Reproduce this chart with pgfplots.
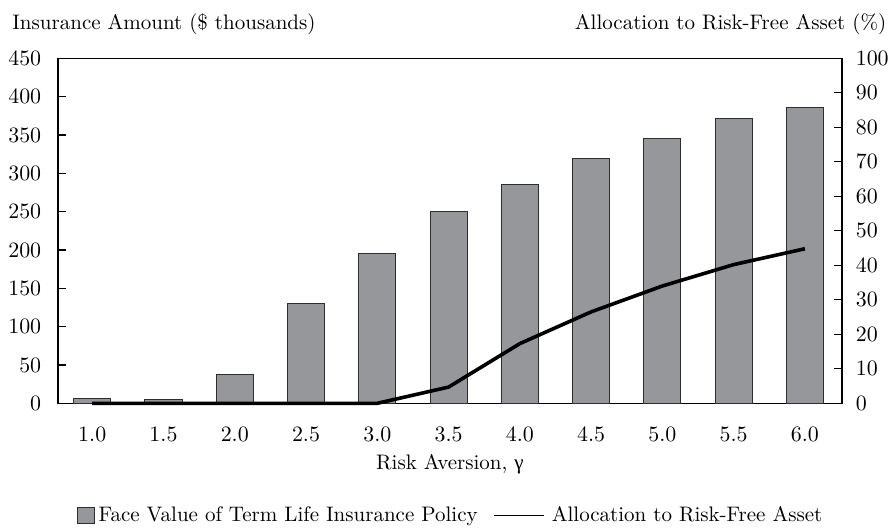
\documentclass[border=0pt]{standalone}
\usepackage{fontspec}
\usepackage{pgfplots}
\pgfplotsset{compat=1.18}
\newfontfamily\grk{Liberation Serif}
\definecolor{barc}{RGB}{150,151,155}
\definecolor{bard}{RGB}{45,45,45}
\begin{document}
\fontsize{10.5}{12.6}\selectfont
\begin{tikzpicture}
\pgfplotsset{
  common/.style={
    scale only axis, width=392pt, height=172.5pt,
    xmin=0.76, xmax=6.26,
    axis line style={line width=0.6pt},
    tick style={black, line width=0.6pt},
    tick align=inside,
    major tick length=4pt,
    clip=false,
  }
}
\begin{axis}[
  common,
  ymin=0, ymax=450,
  ytick={0,50,...,450},
  ytick pos=left,
  xtick={1,1.5,...,6},
  xtick style={draw=none},
  xticklabel style={yshift=-8.5pt,
    /pgf/number format/.cd, fixed, fixed zerofill, precision=1},
  yticklabel style={xshift=-4.7pt},
]
\addplot[ybar, bar width=0.26, fill=barc, draw=bard, line width=0.5pt] coordinates {
(1.0,6)
(1.5,5)
(2.0,37)
(2.5,130)
(3.0,195)
(3.5,250)
(4.0,286)
(4.5,319)
(5.0,346)
(5.5,371)
(6.0,386)
};
\node[anchor=base west, inner sep=0] at ([xshift=-23pt,yshift=14.3pt]rel axis cs:0,1) {Insurance Amount (\$ thousands)};
\node[anchor=base east, inner sep=0] at ([xshift=22.3pt,yshift=14.3pt]rel axis cs:1,1) {Allocation to Risk-Free Asset (\%)};
\node[anchor=center] at ([yshift=-30.5pt]rel axis cs:0.5,0) {Risk Aversion, {\grk γ}};
\coordinate (tl) at ([xshift=-29pt,yshift=29.15pt]rel axis cs:0,1);
\coordinate (br) at ([xshift=24pt,yshift=-63.5pt]rel axis cs:1,0);
\end{axis}
\begin{axis}[
  common,
  ymin=0, ymax=100,
  ytick={0,10,...,100},
  ytick pos=right,
  yticklabel pos=right,
  hide x axis,
  yticklabel style={xshift=3.2pt},
  legend columns=2,
  legend style={draw=none, at={(0.502,-0.325)}, anchor=center,
    /tikz/every even column/.append style={column sep=6pt},
    inner sep=0pt},
]
\addlegendimage{legend image code/.code={
  \draw[fill=barc, draw=bard, line width=0.5pt] (0pt,-4.2pt) rectangle (8.4pt,4.2pt);}}
\addlegendentry{Face Value of Term Life Insurance Policy}
\addplot[black, line width=1.8pt, line join=round,
  legend image code/.code={\draw[black, line width=0.6pt] (0pt,0pt) -- (25pt,0pt);}] coordinates {
(1.0,0)
(1.5,0)
(2.0,0)
(2.5,0)
(3.0,0)
(3.5,4.7)
(4.0,17.3)
(4.5,26.5)
(5.0,34)
(5.5,40.2)
(6.0,44.8)
};
\addlegendentry{\hspace{1.5pt}Allocation to Risk-Free Asset}
\end{axis}
\pgfresetboundingbox
\path[use as bounding box] (tl) rectangle (br);
\end{tikzpicture}
\end{document}
